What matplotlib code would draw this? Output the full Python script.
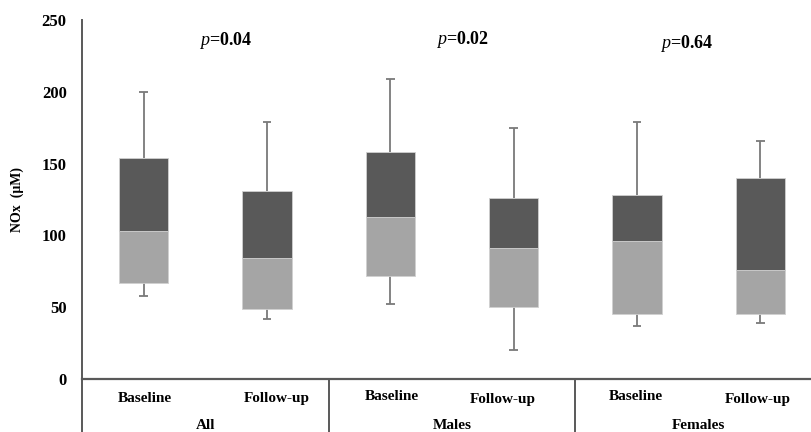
import matplotlib
matplotlib.use("Agg")
import matplotlib.pyplot as plt

# ---- data ----
groups = ["All", "Males", "Females"]
timepoints = ["Baseline", "Follow-up"]
p_values = ["0.04", "0.02", "0.64"]
whisk_min = [58, 42, 52, 20, 37, 39]
q1 = [67, 49, 72, 50, 45, 45]
median = [103, 84, 113, 91, 96, 76]
q3 = [154, 131, 158, 126, 128, 140]
whisk_max = [200, 179, 209, 175, 179, 166]
yticks = [0, 50, 100, 150, 200, 250]

plt.rcParams['font.family'] = ['Liberation Serif', 'DejaVu Serif']
plt.rcParams['mathtext.fontset'] = 'custom'
plt.rcParams['mathtext.it'] = 'Liberation Serif:italic'
plt.rcParams['mathtext.rm'] = 'Liberation Serif:bold'

fig = plt.figure(figsize=(8.11, 4.32), dpi=100)
ax = fig.add_axes([82/811, 53/432, 740/811, 359/432])

dark = '#595959'
light = '#a5a5a5'
wcol = '#7a7a7a'
n = len(q1)
xs = [i + 0.5 for i in range(n)]
bw = 0.4
cap = 0.035

for x, lo, q_1, med, q_3, hi in zip(xs, whisk_min, q1, median, q3, whisk_max):
    ax.vlines(x, lo, q_1, color=wcol, lw=1.3, zorder=1)
    ax.vlines(x, q_3, hi, color=wcol, lw=1.3, zorder=1)
    ax.hlines([lo, hi], x - cap, x + cap, color=wcol, lw=1.3, zorder=1)
ax.bar(xs, [m - a for m, a in zip(median, q1)], bottom=q1, width=bw,
       color=light, edgecolor='#d0d0d0', linewidth=0.6, zorder=2)
ax.bar(xs, [b - m for b, m in zip(q3, median)], bottom=median, width=bw,
       color=dark, edgecolor='#d0d0d0', linewidth=0.6, zorder=2)

ax.set_xlim(0, 6)
ax.set_ylim(0, 250)
ax.set_yticks(yticks)
ax.set_yticklabels([str(t) for t in yticks], fontsize=12, fontweight='bold')
ax.tick_params(axis='y', length=0, pad=11)
ax.set_xticks([])
for s in ['top', 'right']:
    ax.spines[s].set_visible(False)
ax.spines['left'].set_color(dark)
ax.spines['left'].set_linewidth(1.4)
ax.spines['bottom'].set_color(dark)
ax.spines['bottom'].set_linewidth(1.6)

# extended category axis lines below zero
for xv in [0, 2, 4]:
    ax.plot([xv, xv], [0, -45], color=dark, lw=1.4, clip_on=False)

ax.set_ylabel("NOx  (μM)", fontsize=10, fontweight='bold', labelpad=13)

# category labels
label_shift = [0.01, 0.08, 0.01, -0.09, -0.01, -0.02]
label_y = [-13.5, -13.5, -12.5, -14.5, -12.5, -14]
for i in range(n):
    ax.text(xs[i] + label_shift[i], label_y[i], timepoints[i % 2], ha='center', va='center',
            fontsize=11, fontweight='bold', clip_on=False)
for g, name in enumerate(groups):
    ax.text(2 * g + 1, -32.5, name, ha='center', va='center', fontsize=11,
            fontweight='bold', clip_on=False)

# p-values
p_x = [1.167, 3.088, 4.907]
p_y = [236, 236.5, 233.5]
for g, pv in enumerate(p_values):
    ax.text(p_x[g], p_y[g], r'$\mathit{p}$=' + pv, ha='center', va='center',
            fontsize=13, fontweight='bold')

fig.savefig("out.png", dpi=100)
